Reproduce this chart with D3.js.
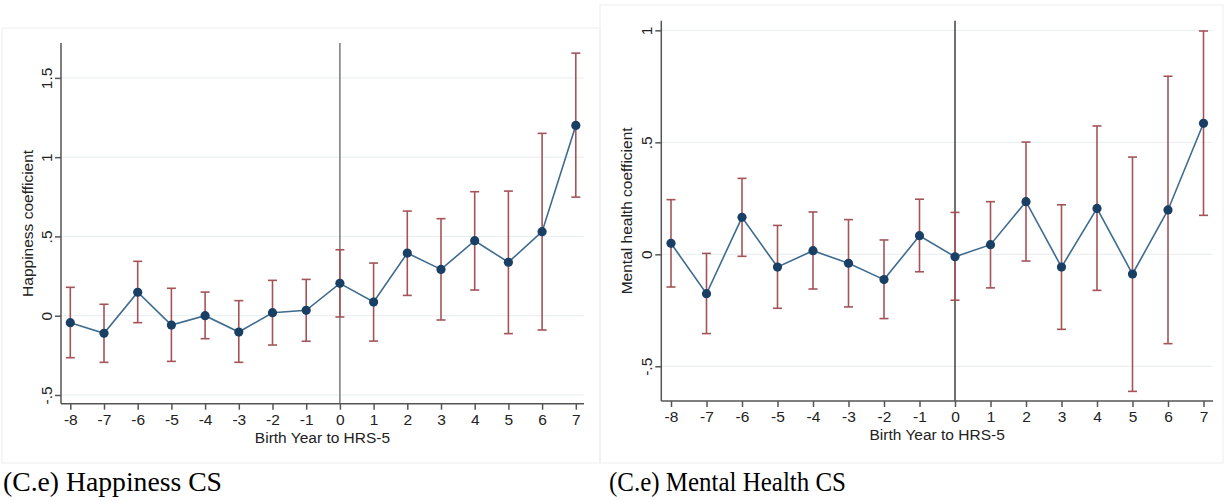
<!DOCTYPE html>
<html>
<head>
<meta charset="utf-8">
<script src="https://cdn.jsdelivr.net/npm/d3@7"></script>
<style>
  body { margin: 0; background: #fff; }
  .tick text { font-family: "Liberation Sans", Arial, sans-serif; fill: #222; }
</style>
</head>
<body>
<div id="chart"></div>
<script>
const years = [-8, -7, -6, -5, -4, -3, -2, -1, 0, 1, 2, 3, 4, 5, 6, 7];

const happyCoef = [-0.044, -0.111, 0.148, -0.059, 0.0, -0.103, 0.019, 0.034, 0.204, 0.086, 0.395, 0.292, 0.473, 0.337, 0.530, 1.200];
const happyLo = [-0.265, -0.294, -0.044, -0.288, -0.145, -0.294, -0.185, -0.161, -0.008, -0.160, 0.128, -0.027, 0.162, -0.113, -0.090, 0.748];
const happyHi = [0.179, 0.072, 0.343, 0.173, 0.149, 0.095, 0.223, 0.229, 0.416, 0.332, 0.660, 0.612, 0.782, 0.786, 1.150, 1.656];

const mentalCoef = [0.049, -0.176, 0.165, -0.057, 0.016, -0.040, -0.113, 0.083, -0.011, 0.043, 0.235, -0.057, 0.205, -0.088, 0.198, 0.585];
const mentalLo = [-0.146, -0.354, -0.009, -0.241, -0.155, -0.235, -0.287, -0.078, -0.205, -0.150, -0.030, -0.335, -0.161, -0.612, -0.399, 0.174];
const mentalHi = [0.244, 0.004, 0.339, 0.129, 0.189, 0.155, 0.064, 0.246, 0.187, 0.235, 0.501, 0.221, 0.573, 0.434, 0.795, 0.997];

const happyTicks = [-0.5, 0, 0.5, 1, 1.5];
const mentalTicks = [-0.5, 0, 0.5, 1];

const fmt = v => v === 0 ? "0" : String(v).replace("0.", ".");

const svg = d3.select("#chart").append("svg")
    .attr("width", 1226)
    .attr("height", 501);

function drawPanel(p) {
    const g = svg.append("g");

    // faint panel frame
    g.append("rect")
        .attr("x", p.frame[0]).attr("y", p.frame[1])
        .attr("width", p.frame[2]).attr("height", p.frame[3])
        .attr("fill", "none")
        .attr("stroke", "#eeeeee");

    const x = d3.scaleLinear().domain([-8, 7]).range(p.xRange);
    const y = d3.scaleLinear().domain(p.yDomain).range([p.bottom, p.top]);

    // grid
    g.selectAll(".grid").data(p.yTicks).join("line")
        .attr("x1", p.axisX).attr("x2", p.right)
        .attr("y1", d => y(d)).attr("y2", d => y(d))
        .attr("stroke", "#e6eef0").attr("stroke-width", 1);

    // reference line at 0
    g.append("line")
        .attr("x1", x(0)).attr("x2", x(0))
        .attr("y1", p.top).attr("y2", p.bottom)
        .attr("stroke", p.refColor).attr("stroke-width", 1.3);

    // axes
    const yAxis = d3.axisLeft(y).tickValues(p.yTicks).tickFormat(fmt).tickSize(6).tickPadding(4);
    const ya = g.append("g").attr("transform", `translate(${p.axisX},0)`).call(yAxis);
    ya.select(".domain").attr("d", `M0,${p.top}V${p.bottom}`);
    ya.selectAll("path, line").attr("stroke", "#555").attr("stroke-width", 1.5);
    ya.selectAll("text")
        .attr("font-size", 15.5)
        .attr("transform", "rotate(-90)")
        .attr("x", 0).attr("y", -9)
        .attr("dy", "0")
        .attr("text-anchor", "middle");

    const xAxis = d3.axisBottom(x).tickValues(years).tickFormat(d3.format("d")).tickSize(6).tickPadding(4);
    const xa = g.append("g").attr("transform", `translate(0,${p.bottom})`).call(xAxis);
    xa.select(".domain").attr("d", `M${p.axisX},0H${p.right}`);
    xa.selectAll("path, line").attr("stroke", "#555").attr("stroke-width", 1.5);
    xa.selectAll("text").attr("font-size", 15.5).text(d => d < 0 ? "-" + (-d) : d);

    // titles
    g.append("text")
        .attr("x", (p.axisX + p.right) / 2).attr("y", p.bottom + 39)
        .attr("text-anchor", "middle")
        .attr("font-family", "Liberation Sans, Arial, sans-serif")
        .attr("font-size", 15.5).attr("fill", "#222")
        .text("Birth Year to HRS-5");

    g.append("text")
        .attr("transform", `translate(${p.titleX},${(p.top + p.bottom) / 2}) rotate(-90)`)
        .attr("text-anchor", "middle")
        .attr("font-family", "Liberation Sans, Arial, sans-serif")
        .attr("font-size", 15.5).attr("fill", "#222")
        .text(p.yTitle);

    const rows = years.map((yr, i) => ({yr, c: p.coef[i], lo: p.lo[i], hi: p.hi[i]}));

    // confidence intervals
    const ci = g.append("g").attr("stroke", "#a45459").attr("stroke-width", 1.6).attr("fill", "none");
    ci.selectAll(".bar").data(rows).join("line")
        .attr("x1", d => x(d.yr)).attr("x2", d => x(d.yr))
        .attr("y1", d => y(d.lo)).attr("y2", d => y(d.hi));
    ci.selectAll(".capTop").data(rows).join("line")
        .attr("x1", d => x(d.yr) - 4.5).attr("x2", d => x(d.yr) + 4.5)
        .attr("y1", d => y(d.hi)).attr("y2", d => y(d.hi));
    ci.selectAll(".capBot").data(rows).join("line")
        .attr("x1", d => x(d.yr) - 4.5).attr("x2", d => x(d.yr) + 4.5)
        .attr("y1", d => y(d.lo)).attr("y2", d => y(d.lo));

    // connecting line + markers
    g.append("path")
        .datum(rows)
        .attr("fill", "none")
        .attr("stroke", "#3f6b8e")
        .attr("stroke-width", 1.6)
        .attr("d", d3.line().x(d => x(d.yr)).y(d => y(d.c)));

    g.selectAll(".pt").data(rows).join("circle")
        .attr("cx", d => x(d.yr)).attr("cy", d => y(d.c))
        .attr("r", 4.6)
        .attr("fill", "#1a3f64");

    // caption
    svg.append("text")
        .attr("x", p.capX).attr("y", 491)
        .attr("font-family", "Liberation Serif, Times New Roman, serif")
        .attr("font-size", 27).attr("fill", "#000")
        .attr("textLength", p.capLen).attr("lengthAdjust", "spacingAndGlyphs")
        .text(p.caption);
}

drawPanel({
    frame: [2, 28, 598, 435],
    axisX: 61, right: 584, top: 43, bottom: 403.7,
    xRange: [70.3, 575.8], yDomain: [-0.555, 1.72],
    yTicks: happyTicks, coef: happyCoef, lo: happyLo, hi: happyHi,
    refColor: "#666", titleX: 33, yTitle: "Happiness coefficient",
    caption: "(C.e) Happiness CS", capX: 3, capLen: 219
});

drawPanel({
    frame: [600, 5, 623, 458],
    axisX: 661.3, right: 1213, top: 20.7, bottom: 401,
    xRange: [671, 1203.5], yDomain: [-0.655, 1.043],
    yTicks: mentalTicks, coef: mentalCoef, lo: mentalLo, hi: mentalHi,
    refColor: "#222", titleX: 632, yTitle: "Mental health coefficient",
    caption: "(C.e) Mental Health CS", capX: 609, capLen: 237
});
</script>
</body>
</html>
